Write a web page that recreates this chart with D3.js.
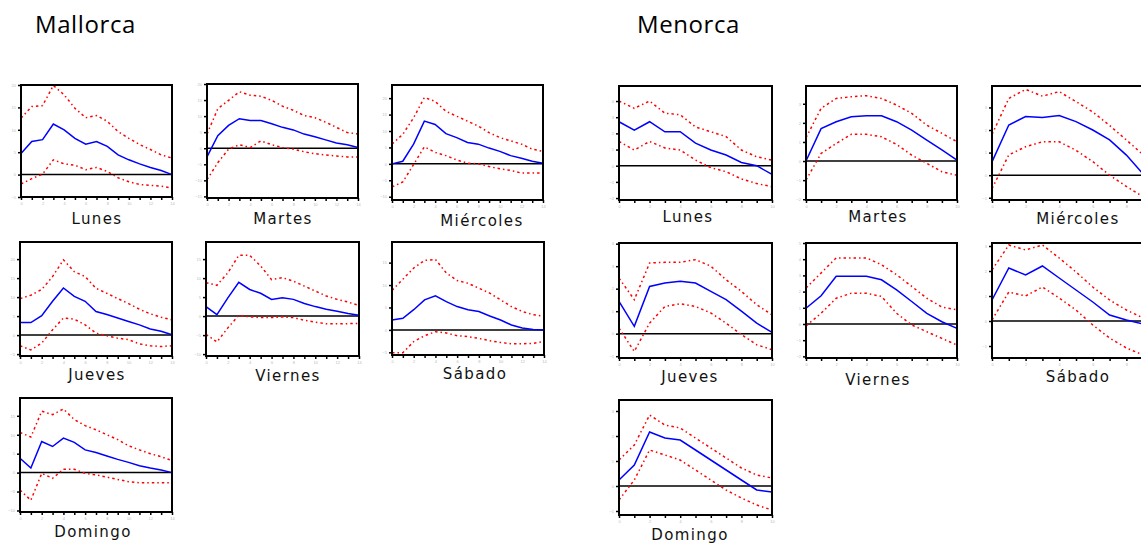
<!DOCTYPE html>
<html lang="es">
<head>
<meta charset="UTF-8">
<title>Mallorca / Menorca</title>
<script src="https://cdn.jsdelivr.net/npm/d3@7"></script>
<style>
    html, body { margin: 0; padding: 0; background: #fff; }
    svg { display: block; }
</style>
</head>
<body>
<script>
// dias de la semana (un panel por dia)
const days = ["Lunes", "Martes", "Miércoles", "Jueves", "Viernes", "Sábado", "Domingo"]

// Mallorca: 15 periodos (0..14) - respuesta, banda superior, banda inferior
const mallorcaIRF = [
    [4.7, 7.4, 7.8, 11.3, 10.0, 8.1, 6.8, 7.4, 6.3, 4.4, 3.3, 2.4, 1.6, 0.9, 0.0],
    [-2.7, 3.9, 7.1, 9.2, 8.6, 8.6, 7.6, 6.5, 5.7, 4.4, 3.6, 2.6, 1.6, 1.1, 0.2],
    [0.0, 0.8, 6.0, 13.0, 12.0, 9.2, 8.0, 6.5, 6.0, 4.8, 3.8, 2.5, 1.7, 0.8, 0.2],
    [3.3, 3.3, 5.1, 8.9, 12.4, 10.2, 8.9, 6.2, 5.4, 4.5, 3.6, 2.7, 1.6, 1.0, 0.1],
    [2.5, 0.4, 4.8, 8.9, 7.0, 6.0, 4.4, 4.8, 4.4, 3.3, 2.5, 1.8, 1.3, 0.7, 0.2],
    [2.2, 2.6, 4.5, 6.7, 7.6, 6.3, 5.2, 4.5, 4.1, 3.1, 2.2, 1.1, 0.4, 0.1, 0.0],
    [3.8, 1.2, 8.2, 6.9, 9.1, 8.0, 6.0, 5.3, 4.4, 3.5, 2.7, 1.8, 1.2, 0.7, 0.0]
]
const mallorcaUpper = [
    [12.6, 15.2, 15.4, 19.9, 17.8, 14.8, 12.7, 13.2, 11.9, 9.6, 8.1, 6.7, 5.6, 4.4, 3.7],
    [4.4, 12.3, 14.9, 17.6, 16.5, 16.2, 14.9, 13.1, 11.8, 10.2, 9.5, 8.1, 6.5, 4.9, 4.4],
    [6.0, 9.0, 14.0, 20.2, 19.0, 16.0, 14.5, 13.0, 11.5, 9.5, 8.0, 7.0, 6.0, 4.5, 3.8],
    [9.6, 10.5, 12.0, 15.4, 19.8, 16.7, 15.4, 12.3, 11.0, 9.6, 8.3, 6.8, 5.6, 4.7, 4.0],
    [8.8, 8.1, 11.4, 16.0, 16.0, 13.2, 9.6, 10.1, 9.2, 7.9, 6.6, 5.3, 4.4, 3.7, 2.8],
    [8.8, 11.3, 13.8, 15.5, 15.7, 12.7, 11.0, 10.4, 9.3, 8.2, 6.7, 5.2, 4.1, 3.4, 3.0],
    [10.6, 9.4, 16.2, 15.3, 16.8, 14.0, 12.4, 11.3, 10.0, 8.7, 7.1, 6.0, 5.0, 4.2, 3.2]
]
const mallorcaLower = [
    [-2.1, -0.9, 0.1, 3.3, 2.4, 2.1, 1.1, 1.6, 0.7, -0.7, -1.6, -2.2, -2.4, -2.6, -3.0],
    [-9.8, -4.5, -0.3, 1.1, 0.2, 2.3, 1.1, 0.2, -0.3, -1.1, -1.7, -2.1, -2.4, -2.7, -2.7],
    [-7.0, -5.5, -0.2, 5.2, 3.5, 2.5, 1.2, 0.2, 0.0, -0.8, -1.5, -2.0, -2.8, -2.8, -2.8],
    [-2.8, -3.9, -2.1, 1.4, 4.5, 4.2, 2.7, 0.5, -0.2, -0.8, -1.2, -2.3, -2.8, -3.0, -2.8],
    [-4.8, -6.8, -3.1, 0.2, -0.2, -0.4, -0.4, -0.2, -0.4, -1.1, -1.6, -2.0, -2.0, -2.0, -1.9],
    [-5.1, -5.1, -2.6, -1.3, -0.4, -0.7, -1.3, -1.5, -1.9, -2.4, -2.8, -3.1, -3.1, -3.0, -2.6],
    [-4.6, -7.3, -0.2, -1.5, 0.9, 0.9, -0.2, -0.6, -1.2, -1.8, -2.4, -2.7, -2.7, -2.7, -2.7]
]
const mallorcaYDomain = [[-5, 20], [-15.5, 20], [-11, 24], [-5.5, 24.5], [-10.5, 19.5], [-5.6, 19.6], [-10.4, 19.7]]

// Menorca: 11 periodos (0..10)
const menorcaIRF = [
    [2.72, 2.2, 2.72, 2.1, 2.1, 1.4, 0.97, 0.66, 0.2, 0.0, -0.54],
    [0.0, 1.7, 2.06, 2.32, 2.37, 2.37, 2.06, 1.62, 1.1, 0.58, 0.05],
    [0.59, 2.22, 2.6, 2.55, 2.64, 2.37, 2.0, 1.56, 0.89, 0.05, -0.6],
    [1.44, 0.33, 2.1, 2.25, 2.33, 2.25, 1.88, 1.51, 1.0, 0.47, 0.06],
    [0.97, 1.74, 2.94, 2.94, 2.94, 2.73, 2.11, 1.39, 0.66, 0.14, -0.27],
    [0.84, 2.12, 1.84, 2.2, 1.72, 1.24, 0.76, 0.24, 0.04, -0.12, -0.3],
    [0.24, 0.84, 2.16, 1.92, 1.84, 1.44, 1.04, 0.64, 0.24, -0.16, -0.24]
]
const menorcaUpper = [
    [4.0, 3.55, 4.0, 3.25, 3.15, 2.4, 2.1, 1.8, 0.97, 0.55, 0.35],
    [1.22, 2.76, 3.28, 3.37, 3.42, 3.28, 2.93, 2.5, 1.88, 1.45, 1.01],
    [1.8, 3.4, 3.8, 3.5, 3.7, 3.26, 2.8, 2.2, 1.56, 0.9, 0.3],
    [2.47, 1.51, 3.14, 3.17, 3.17, 3.29, 3.0, 2.4, 1.88, 1.29, 0.84],
    [2.22, 3.15, 4.08, 4.08, 4.08, 3.66, 3.04, 2.32, 1.59, 1.04, 0.87],
    [2.04, 3.04, 2.84, 3.04, 2.52, 1.96, 1.36, 0.84, 0.44, 0.12, -0.1],
    [1.04, 1.64, 2.84, 2.44, 2.32, 1.92, 1.52, 1.12, 0.72, 0.44, 0.32]
]
const menorcaLower = [
    [1.5, 0.97, 1.5, 1.1, 0.97, 0.35, -0.12, -0.37, -0.82, -1.1, -1.3],
    [-1.0, 0.4, 0.92, 1.4, 1.4, 1.27, 0.87, 0.31, -0.12, -0.56, -0.75],
    [-0.6, 0.9, 1.26, 1.48, 1.48, 1.1, 0.6, 0.0, -0.5, -0.96, -1.3],
    [0.25, -0.79, 0.47, 1.21, 1.33, 1.21, 0.92, 0.47, -0.04, -0.49, -0.71],
    [-0.12, 0.66, 1.59, 1.9, 1.9, 1.7, 0.66, -0.06, -0.48, -0.89, -1.3],
    [0.04, 1.16, 1.0, 1.36, 0.92, 0.44, -0.16, -0.68, -1.08, -1.36, -1.6],
    [-0.56, 0.24, 1.44, 1.24, 1.04, 0.64, 0.24, -0.16, -0.48, -0.76, -0.96]
]
const menorcaYDomain = [[-2.12, 4.93], [-2.04, 3.93], [-1.1, 3.95], [-1.08, 4.03], [-2.1, 5], [-1.48, 3.12], [-1.16, 3.44]]

// cajas de cada panel (posicion en la pagina) y la linea base del nombre del dia
const mallorcaBoxes = [
    {x0: 21, x1: 172, y0: 85, y1: 197, lx: 97, ly: 224},
    {x0: 207, x1: 358, y0: 84, y1: 198, lx: 283, ly: 224},
    {x0: 392, x1: 543, y0: 85, y1: 200, lx: 482, ly: 226},
    {x0: 20, x1: 172, y0: 242, y1: 356, lx: 97, ly: 380},
    {x0: 206, x1: 359, y0: 242, y1: 356, lx: 288, ly: 381},
    {x0: 392, x1: 544, y0: 242, y1: 355, lx: 475, ly: 379},
    {x0: 20, x1: 172, y0: 398, y1: 512, lx: 93, ly: 537}
]
const menorcaBoxes = [
    {x0: 619, x1: 772, y0: 86, y1: 200, lx: 688, ly: 222},
    {x0: 806, x1: 957, y0: 86, y1: 200, lx: 878, ly: 222},
    {x0: 992, x1: 1160, y0: 86, y1: 200, lx: 1078, ly: 224},
    {x0: 619, x1: 772, y0: 243, y1: 358, lx: 690, ly: 382},
    {x0: 806, x1: 957, y0: 243, y1: 358, lx: 878, ly: 385},
    {x0: 992, x1: 1160, y0: 243, y1: 358, lx: 1078, ly: 382},
    {x0: 619, x1: 772, y0: 400, y1: 515, lx: 690, ly: 540}
]

const W = 1141, H = 544

const svg = d3.select("body").append("svg")
    .attr("width", W)
    .attr("height", H)

svg.append("rect").attr("width", W).attr("height", H).attr("fill", "#fff")

// titulos de las islas
svg.append("text").attr("x", 35).attr("y", 33)
    .attr("font-family", "Open Sans, Lato, sans-serif").attr("font-size", 24)
    .attr("letter-spacing", 0.6)
    .attr("fill", "#000").text("Mallorca")
svg.append("text").attr("x", 637).attr("y", 33)
    .attr("font-family", "Open Sans, Lato, sans-serif").attr("font-size", 24)
    .attr("letter-spacing", 0.6)
    .attr("fill", "#000").text("Menorca")

// dibuja un panel pequeño
function drawPanel(box, irf, hi, lo, yDomain, name) {
    const n = irf.length
    const x = d3.scaleLinear().domain([0, n - 1]).range([box.x0, box.x1])
    const y = d3.scaleLinear().domain(yDomain).range([box.y1, box.y0])

    const g = svg.append("g")

    // marcas del eje y
    const yAxis = d3.axisLeft(y).ticks(6).tickSize(3).tickFormat(d3.format("~g"))
    const ya = g.append("g").attr("transform", `translate(${box.x0},0)`).call(yAxis)
    ya.select(".domain").remove()
    ya.selectAll("line").attr("stroke", "#000").attr("stroke-width", 1.5)
    ya.selectAll("text").attr("font-size", 4).attr("fill", "#bbb").attr("x", -5)

    // marcas del eje x
    const xAxis = d3.axisBottom(x).ticks(n).tickSize(3)
        .tickFormat(d => (d % 2 == 0 && x(d) < W - 6 ? d : ""))
    const xa = g.append("g").attr("transform", `translate(0,${box.y1})`).call(xAxis)
    xa.select(".domain").remove()
    xa.selectAll("line").attr("stroke", "#000").attr("stroke-width", 1.5)
    xa.selectAll("text").attr("font-size", 4).attr("fill", "#bbb").attr("y", 5)

    // linea cero
    g.append("line")
        .attr("x1", box.x0).attr("x2", box.x1)
        .attr("y1", y(0)).attr("y2", y(0))
        .attr("stroke", "#000").attr("stroke-width", 1.5)

    const line = d3.line().x((d, i) => x(i)).y(d => y(d))

    // bandas de confianza
    ;[hi, lo].forEach(arr => {
        g.append("path").datum(arr)
            .attr("d", line)
            .attr("fill", "none")
            .attr("stroke", "#ff0000")
            .attr("stroke-width", 1.5)
            .attr("stroke-dasharray", "2.5,3,1.5,3")
    })

    // respuesta
    g.append("path").datum(irf)
        .attr("d", line)
        .attr("fill", "none")
        .attr("stroke", "#0000ff")
        .attr("stroke-width", 1.5)

    // marco
    g.append("rect")
        .attr("x", box.x0).attr("y", box.y0)
        .attr("width", box.x1 - box.x0).attr("height", box.y1 - box.y0)
        .attr("fill", "none").attr("stroke", "#000").attr("stroke-width", 2)

    // nombre del dia
    g.append("text")
        .attr("x", box.lx).attr("y", box.ly)
        .attr("text-anchor", "middle")
        .attr("font-family", "DejaVu Sans, sans-serif")
        .attr("font-size", 15)
        .attr("letter-spacing", 1.4)
        .attr("fill", "#111")
        .text(name)
}

days.forEach((d, i) => {
    drawPanel(mallorcaBoxes[i], mallorcaIRF[i], mallorcaUpper[i], mallorcaLower[i], mallorcaYDomain[i], d)
    drawPanel(menorcaBoxes[i], menorcaIRF[i], menorcaUpper[i], menorcaLower[i], menorcaYDomain[i], d)
})
</script>
</body>
</html>
